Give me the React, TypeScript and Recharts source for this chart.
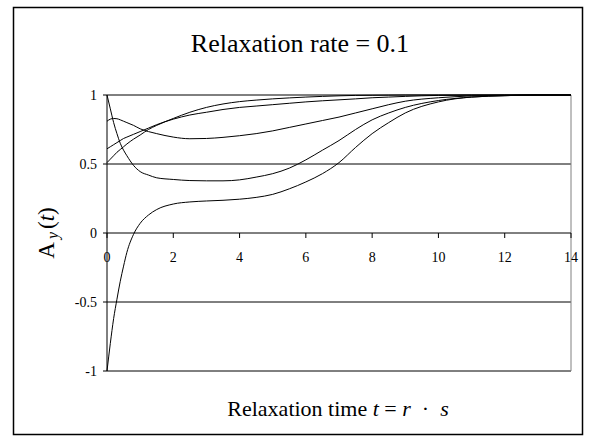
import React from "react";
import {
  LineChart,
  Line,
  XAxis,
  YAxis,
  CartesianGrid,
  ReferenceLine,
  ReferenceDot,
} from "recharts";

// relaxation time samples (denser near t = 0 where the curves are steep)
const times = [
  0, 0.1, 0.2, 0.3, 0.4, 0.5, 0.6, 0.8, 1, 1.25, 1.5, 2, 2.5, 3, 3.5, 4, 4.5, 5,
  5.5, 6, 6.5, 7, 7.5, 8, 8.5, 9, 10, 11, 12, 13, 14,
];

const curveA = [
  1, 0.9, 0.8, 0.72, 0.65, 0.6, 0.56, 0.49, 0.445, 0.42, 0.4, 0.388, 0.38, 0.378,
  0.378, 0.385, 0.405, 0.43, 0.47, 0.53, 0.6, 0.67, 0.75, 0.82, 0.87, 0.91, 0.96,
  0.985, 0.995, 1, 1,
];
const curveB = [
  -1, -0.8, -0.62, -0.48, -0.35, -0.24, -0.14, -0.01, 0.07, 0.13, 0.17, 0.21,
  0.225, 0.232, 0.237, 0.245, 0.258, 0.28, 0.32, 0.37, 0.43, 0.51, 0.62, 0.72,
  0.8, 0.87, 0.95, 0.985, 0.995, 1, 1,
];
const curveC = [
  0.81, 0.825, 0.83, 0.828, 0.82, 0.81, 0.8, 0.78, 0.755, 0.735, 0.72, 0.695,
  0.683, 0.685, 0.693, 0.705, 0.72, 0.74, 0.765, 0.79, 0.815, 0.84, 0.87, 0.9,
  0.93, 0.955, 0.98, 0.993, 0.998, 1, 1,
];
const curveD = [
  0.61, 0.625, 0.64, 0.655, 0.67, 0.685, 0.695, 0.715, 0.735, 0.76, 0.785,
  0.825, 0.855, 0.875, 0.895, 0.91, 0.92, 0.93, 0.94, 0.95, 0.958, 0.965, 0.972,
  0.98, 0.985, 0.99, 0.997, 0.999, 1, 1, 1,
];
const curveE = [
  0.51, 0.535, 0.56, 0.585, 0.605, 0.625, 0.645, 0.68, 0.71, 0.75, 0.78, 0.83,
  0.875, 0.91, 0.935, 0.952, 0.963, 0.972, 0.979, 0.985, 0.99, 0.994, 0.997,
  0.998, 0.999, 1, 1, 1, 1, 1, 1,
];

const xTicks = [0, 2, 4, 6, 8, 10, 12, 14];
const yTicks = [-1, -0.5, 0, 0.5, 1];

const data = times.map((t, i) => ({
  t,
  a: curveA[i],
  b: curveB[i],
  c: curveC[i],
  d: curveD[i],
  e: curveE[i],
}));

const serif = "'Liberation Serif', 'Times New Roman', serif";

function XTickAtZero(props: any) {
  const { cx, cy, payload } = props;
  return (
    <g>
      <line x1={cx} y1={cy} x2={cx} y2={cy + 5} stroke="#000" strokeWidth={1} />
      <text
        x={cx}
        y={cy + 29}
        textAnchor="middle"
        fontSize={14}
        fontFamily={serif}
        fill="#000"
      >
        {payload}
      </text>
    </g>
  );
}

export default function App() {
  const keys = ["a", "b", "c", "d", "e"];
  return (
    <div
      style={{
        position: "absolute",
        left: 0,
        top: 0,
        width: 589,
        height: 436,
        background: "#fff",
      }}
    >
      <LineChart
        width={589}
        height={436}
        data={data}
        margin={{ top: 95, right: 18, bottom: 65, left: 47 }}
        style={{ position: "absolute", left: 0, top: 0 }}
      >
        <CartesianGrid
          horizontal
          vertical={false}
          stroke="#000"
          strokeWidth={1}
          horizontalValues={[0.5, -0.5]}
        />
        <XAxis
          dataKey="t"
          type="number"
          domain={[0, 14]}
          ticks={xTicks}
          hide
        />
        <YAxis
          type="number"
          domain={[-1, 1]}
          ticks={yTicks}
          width={60}
          axisLine={{ stroke: "#000" }}
          tickLine={{ stroke: "#000" }}
          tickSize={4}
          tickMargin={6}
          tick={{ fill: "#000", fontSize: 14, fontFamily: serif }}
          tickFormatter={(v: number) => String(v)}
        />
        <ReferenceLine y={1} stroke="#000" />
        <ReferenceLine y={-1} stroke="#000" />
        <ReferenceLine x={14} stroke="#808080" />
        <ReferenceLine y={0} stroke="#000" />
        {xTicks.map((t) => (
          <ReferenceDot
            key={t}
            x={t}
            y={0}
            r={0}
            shape={(p: any) => <XTickAtZero {...p} payload={t} />}
          />
        ))}
        {keys.map((k) => (
          <Line
            key={k}
            type="monotone"
            dataKey={k}
            stroke="#000"
            strokeWidth={1}
            dot={false}
            isAnimationActive={false}
          />
        ))}
      </LineChart>
      <svg
        width={589}
        height={436}
        style={{ position: "absolute", left: 0, top: 0, pointerEvents: "none" }}
        fontFamily={serif}
      >
        <rect
          x={13.5}
          y={7.5}
          width={569}
          height={427}
          fill="none"
          stroke="#000"
          strokeWidth={1.5}
        />
        <text x={300} y={52} textAnchor="middle" fontSize={26} fill="#000">
          Relaxation rate = 0.1
        </text>
        <text x={338} y={416} textAnchor="middle" fontSize={22} fill="#000" xmlSpace="preserve">
          Relaxation time <tspan fontStyle="italic">t</tspan> = <tspan fontStyle="italic">r</tspan>  ·  <tspan fontStyle="italic">s</tspan>
        </text>
        <text
          x={46}
          y={233}
          transform="rotate(-90, 46, 233)"
          textAnchor="middle"
          dominantBaseline="central"
          fontSize={23}
          fill="#000"
        >
          A
          <tspan fontSize={16} fontStyle="italic" dy={6} dx={3}>
            y
          </tspan>
          <tspan dy={-6} dx={3}>(</tspan>
          <tspan fontStyle="italic">t</tspan>
          <tspan>)</tspan>
        </text>
      </svg>
    </div>
  );
}
